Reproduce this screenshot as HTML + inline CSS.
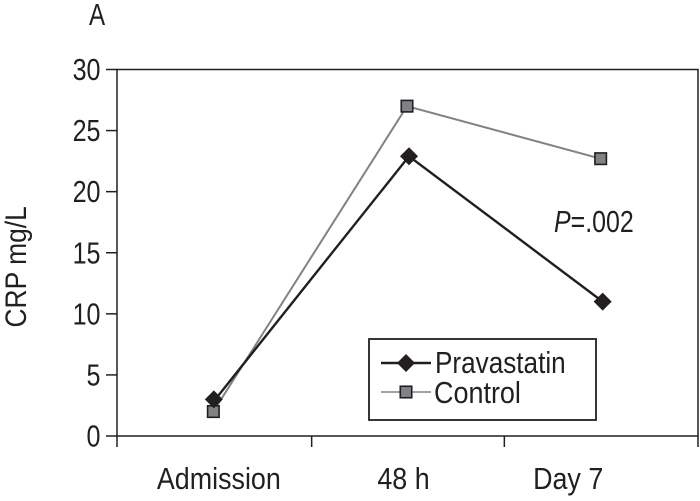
<!DOCTYPE html>
<html lang="en">
<head>
<meta charset="utf-8">
<title>CRP by time point</title>
<style>
html,body{margin:0;padding:0;background:#fff;}
svg{display:block;}
text{font-family:"Liberation Sans",Arial,sans-serif;fill:#231f20;}
</style>
</head>
<body>
<svg id="chart" width="700" height="501" viewBox="0 0 700 501" xmlns="http://www.w3.org/2000/svg"></svg>
<script>
const categories = ['Admission', '48 h', 'Day 7'];
const pravastatinValues = [3, 22.9, 11];
const controlValues = [2, 27, 22.7];
const yTickValues = [0, 5, 10, 15, 20, 25, 30];

const NS = 'http://www.w3.org/2000/svg';
const svg = document.getElementById('chart');
const INK = '#231f20';
const GREY = '#808285';
const plot = {left: 117, right: 698, top: 69.5, bottom: 436};
const yMax = 30;
const labelNudge = [5, -4, -33];
const FONT = 31;

function xScale(i) { return plot.left + (i + 0.5) * (plot.right - plot.left) / categories.length; }
function yScale(v) { return plot.bottom - v / yMax * (plot.bottom - plot.top); }

function make(tag, attrs, text) {
  const el = document.createElementNS(NS, tag);
  for (const k in attrs) el.setAttribute(k, attrs[k]);
  if (text !== undefined) el.textContent = text;
  svg.appendChild(el);
  return el;
}
function line(x1, y1, x2, y2, stroke, w) {
  return make('line', {x1: x1, y1: y1, x2: x2, y2: y2, stroke: stroke, 'stroke-width': w});
}
function label(str, x, y, sx, anchor, size) {
  return make('text', {
    transform: 'translate(' + x + ',' + y + ') scale(' + sx + ',1)',
    'text-anchor': anchor, 'font-size': size
  }, str);
}
function square(cx, cy, s) {
  return make('rect', {x: cx - s / 2, y: cy - s / 2, width: s, height: s, fill: GREY, stroke: INK, 'stroke-width': 1.6});
}
function diamond(cx, cy, r) {
  return make('polygon', {
    points: [cx, cy - r, cx + r, cy, cx, cy + r, cx - r, cy].join(' '),
    fill: INK
  });
}

/* plot frame */
const frame = make('rect', {x: plot.left, y: plot.top, width: plot.right - plot.left, height: plot.bottom - plot.top, fill: 'none', stroke: INK, 'stroke-width': 1.5});



/* y axis */
yTickValues.forEach(function (v) {
  const tick = line(106, yScale(v), plot.left, yScale(v), INK, 1.5);
  
  
  const t = label(String(v), 100.5, yScale(v) + 10.5, 0.81, 'end', FONT);
  
  
});

/* x axis */
categories.forEach(function (c, i) {
  const t = label(c, xScale(i) + labelNudge[i], 489, 0.867, 'middle', FONT);
  
  
});
for (let i = 0; i <= categories.length; i++) {
  const tx = plot.left + i * (plot.right - plot.left) / categories.length + (i === 1 ? 1 : 0);
  const tick = line(tx, plot.bottom, tx, 447, INK, 1.5);
  
  
}

/* control series */
const controlOffset = -0.5;
const controlLine = make('polyline', {
  points: controlValues.map(function (v, i) { return (xScale(i) + controlOffset) + ',' + yScale(v); }).join(' '),
  fill: 'none', stroke: GREY, 'stroke-width': 2
});


controlValues.forEach(function (v, i) {
  const m = square(xScale(i) + controlOffset, yScale(v), 11.5);
  
  
});

/* pravastatin series */
const pravastatinOffset = 1.5;
const pravastatinLine = make('polyline', {
  points: pravastatinValues.map(function (v, i) { return (xScale(i) + pravastatinOffset) + ',' + yScale(v); }).join(' '),
  fill: 'none', stroke: INK, 'stroke-width': 2.4
});


pravastatinValues.forEach(function (v, i) {
  const m = diamond(xScale(i) + pravastatinOffset - (i === 0 ? 1.5 : 0), yScale(v), 9);
  
  
});

/* legend */
const legendBox = make('rect', {x: 369, y: 339, width: 227, height: 81, fill: '#fff', stroke: INK, 'stroke-width': 1.8});


const legendLineP = line(381, 363, 431, 363, INK, 2.4);


const legendMarkP = diamond(406, 363, 9);


const legendTextP = label('Pravastatin', 435, 373, 0.843, 'start', FONT);


const legendLineC = line(381, 392, 431, 392, GREY, 1.6);


const legendMarkC = square(406, 392, 11.5);


const legendTextC = label('Control', 434, 403, 0.87, 'start', FONT);



/* annotations */
const panel = label('A', 89, 25, 0.78, 'start', FONT);



const yTitle = make('text', {transform: 'translate(26,327.5) rotate(-90) scale(0.88,1)', 'font-size': 30}, 'CRP mg/L');



const pValue = make('text', {transform: 'translate(554,232) scale(0.805,1)', 'font-size': FONT});


const pItalic = document.createElementNS(NS, 'tspan');
pItalic.setAttribute('font-style', 'italic');
pItalic.textContent = 'P';
pValue.appendChild(pItalic);
pValue.appendChild(document.createTextNode('=.002'));
</script>
</body>
</html>
